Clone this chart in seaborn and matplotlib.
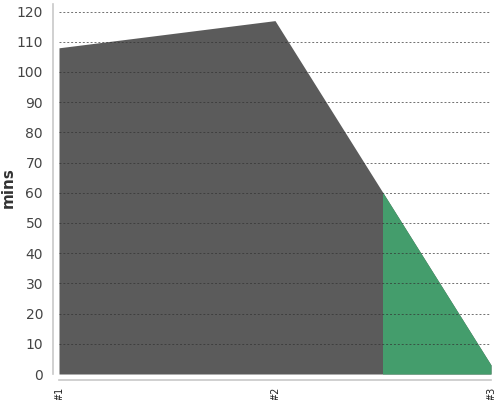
import numpy as np
import pandas as pd
import matplotlib
matplotlib.use('Agg')
import matplotlib.pyplot as plt
import matplotlib.patches as mpatches
import seaborn as sns

labels = ['#1', '#2', '#3']
mins = [108, 117, 3]
split_at = 1.5  # green starts halfway between #2 and #3

df = pd.DataFrame({'pos': np.arange(len(labels)), 'mins': mins})

sns.set_style('white')
plt.rcParams['font.family'] = ['DejaVu Sans']

fig = plt.figure(figsize=(5, 4), dpi=100)
ax = fig.add_axes([0.118, 0.065, 0.864, 0.925])

sns.lineplot(data=df, x='pos', y='mins', ax=ax, color='#5b5b5b', linewidth=0)
ax.fill_between(df['pos'], df['mins'], color='#5b5b5b', linewidth=0)
green = ax.fill_between(df['pos'], df['mins'], color='#449d6c', linewidth=0)
clip = mpatches.Rectangle((split_at, 0), len(labels), 200, transform=ax.transData)
green.set_clip_path(clip)

ax.set_xlim(0, len(labels) - 1)
ax.set_ylim(0, 122.5)
ax.set_yticks(range(0, 121, 10))
ax.set_xticks(df['pos'])
ax.set_xticklabels(labels)

ax.set_axisbelow(False)
ax.yaxis.grid(True, linestyle=(0, (2, 2)), color='#333333', linewidth=0.7, alpha=0.7)
ax.xaxis.grid(False)

for s in ['top', 'right']:
    ax.spines[s].set_visible(False)
for s in ['left', 'bottom']:
    ax.spines[s].set_color('#c8c8c8')
    ax.spines[s].set_linewidth(1.2)
    ax.spines[s].set_position(('outward', 4))

ax.tick_params(axis='both', colors='#c8c8c8', length=4, width=1.2,
               labelcolor='#444444', labelsize=10)
ax.tick_params(axis='x', labelsize=7, labelrotation=90, pad=1, labelcolor='#222222')

ax.set_xlabel('')
ax.set_ylabel('mins', fontsize=11, fontweight='bold', color='#333333')
ax.yaxis.set_label_coords(-0.100, 0.503)

fig.savefig('out.png', dpi=100)
